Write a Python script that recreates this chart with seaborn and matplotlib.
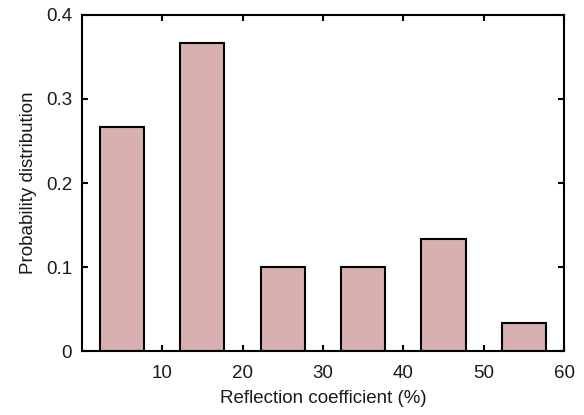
import pandas as pd
import matplotlib.pyplot as plt
import seaborn as sns

# bin centres and probabilities
centers = [5, 15, 25, 35, 45, 55]
probs = [0.267, 0.367, 0.100, 0.100, 0.133, 0.033]

df = pd.DataFrame({'coef': centers, 'prob': probs})

sns.set_style('ticks')
plt.rcParams['font.family'] = ['Liberation Sans', 'DejaVu Sans']
plt.rcParams['text.color'] = '#1a1a1a'
plt.rcParams['axes.labelcolor'] = '#1a1a1a'

fig = plt.figure(figsize=(5.84, 4.15), dpi=100)
ax = fig.add_axes([0.140, 0.154, 0.826, 0.810])

sns.barplot(data=df, x='coef', y='prob', native_scale=True, width=0.55,
            color='#d8b0b0', saturation=1, edgecolor='black', linewidth=1.5, ax=ax)

ax.set_xlim(0, 60)
ax.set_ylim(0, 0.4)
ax.set_xticks([10, 20, 30, 40, 50, 60])
ax.set_xticklabels(['10', '20', '30', '40', '50', '60'])
ax.set_yticks([0, 0.1, 0.2, 0.3, 0.4])
ax.set_yticklabels(['0', '0.1', '0.2', '0.3', '0.4'])
ax.tick_params(direction='in', top=True, right=True, length=4, width=1.5,
               labelsize=13.5, colors='black', labelcolor='#1a1a1a')
ax.tick_params(axis='x', pad=10)
ax.tick_params(axis='y', pad=7)
for s in ax.spines.values():
    s.set_visible(True)
    s.set_linewidth(1.5)
    s.set_color('black')
ax.set_xlabel('Reflection coefficient (%)', fontsize=13.5, labelpad=6)
ax.set_ylabel('Probability distribution', fontsize=13.5, labelpad=6)

fig.savefig('out.png', dpi=100)
